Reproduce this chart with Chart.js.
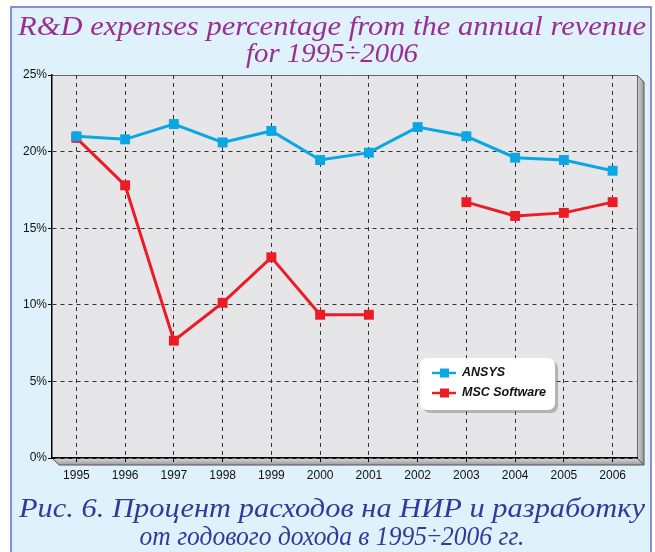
<!DOCTYPE html>
<html>
<head>
<meta charset="utf-8">
<script src="https://cdn.jsdelivr.net/npm/chart.js@4.4.0/dist/chart.umd.min.js"></script>
<style>
  html, body { margin: 0; padding: 0; background: #fff; }
  #rd-chart { display: block; }
</style>
</head>
<body>
<canvas id="rd-chart" width="655" height="552"></canvas>
<script>
// data
const years = ['1995', '1996', '1997', '1998', '1999', '2000', '2001', '2002', '2003', '2004', '2005', '2006'];
const ansysValues = [21.0, 20.8, 21.8, 20.6, 21.35, 19.45, 19.93, 21.6, 21.0, 19.6, 19.45, 18.75];
const mscValues = [20.9, 17.8, 7.66, 10.13, 13.1, 9.35, 9.35, null, 16.7, 15.8, 16.0, 16.7];
const yTicks = [0, 5, 10, 15, 20, 25];
const titleLines = ['R&D expenses percentage from the annual revenue', 'for 1995\u00f72006'];
const captionLines = ['Рис. 6. Процент расходов на НИР и разработку', 'от годового дохода в 1995\u00f72006 гг.'];

const ANSYS_COLOR = '#0aa7e4';
const MSC_COLOR = '#ec1c26';

// serif italic text, each line stretched to the width it has in the picture
function drawTextBlock(ctx, lines, color, baselines, cx, widths) {
    ctx.save();
    ctx.font = 'italic 27px "Liberation Serif", "DejaVu Serif", serif';
    ctx.fillStyle = color;
    ctx.textAlign = 'center';
    ctx.textBaseline = 'alphabetic';
    lines.forEach((line, i) => {
        const sx = widths[i] / ctx.measureText(line).width;
        ctx.save();
        ctx.translate(cx, baselines[i]);
        ctx.scale(sx, 1);
        ctx.fillText(line, 0, 0);
        ctx.restore();
    });
    ctx.restore();
}

const framePlugin = {
    id: 'frame',
    beforeDraw(chart) {
        const { ctx, chartArea: a } = chart;
        ctx.save();
        ctx.fillStyle = '#ffffff';
        ctx.fillRect(0, 0, chart.width, chart.height);
        // blue panel
        ctx.fillStyle = '#dff1fb';
        ctx.fillRect(11, 7, 640, chart.height);
        ctx.strokeStyle = '#6a6ec2';
        ctx.lineWidth = 1.5;
        ctx.beginPath();
        ctx.moveTo(11, chart.height + 2);
        ctx.lineTo(11, 7);
        ctx.lineTo(651, 7);
        ctx.lineTo(651, chart.height + 2);
        ctx.stroke();

        // 3D floor and right wall
        const d = 7;
        let g = ctx.createLinearGradient(0, a.bottom, 0, a.bottom + d);
        g.addColorStop(0, '#d8d8d8');
        g.addColorStop(1, '#9c9c9c');
        ctx.fillStyle = g;
        ctx.beginPath();
        ctx.moveTo(a.left, a.bottom);
        ctx.lineTo(a.right, a.bottom);
        ctx.lineTo(a.right + d, a.bottom + d);
        ctx.lineTo(a.left + d, a.bottom + d);
        ctx.closePath();
        ctx.fill();
        g = ctx.createLinearGradient(a.right, 0, a.right + d, 0);
        g.addColorStop(0, '#d4d4d4');
        g.addColorStop(1, '#9a9a9a');
        ctx.fillStyle = g;
        ctx.beginPath();
        ctx.moveTo(a.right, a.top);
        ctx.lineTo(a.right + d, a.top + d);
        ctx.lineTo(a.right + d, a.bottom + d);
        ctx.lineTo(a.right, a.bottom);
        ctx.closePath();
        ctx.fill();
        ctx.strokeStyle = '#555';
        ctx.lineWidth = 1;
        ctx.beginPath();
        ctx.moveTo(a.left, a.bottom);
        ctx.lineTo(a.left + d, a.bottom + d);
        ctx.lineTo(a.right + d, a.bottom + d);
        ctx.lineTo(a.right + d, a.top + d);
        ctx.lineTo(a.right, a.top);
        ctx.moveTo(a.right, a.bottom);
        ctx.lineTo(a.right + d, a.bottom + d);
        ctx.stroke();

        // plot area
        ctx.fillStyle = '#e6e6e8';
        ctx.fillRect(a.left, a.top, a.right - a.left, a.bottom - a.top);
        ctx.strokeStyle = '#666';
        ctx.beginPath();
        ctx.moveTo(a.left, a.top + 0.5);
        ctx.lineTo(a.right + 0.5, a.top + 0.5);
        ctx.lineTo(a.right + 0.5, a.bottom);
        ctx.stroke();

        drawTextBlock(ctx, titleLines, '#992f8f', [35, 62], 332, [628, 172]);
        drawTextBlock(ctx, captionLines, '#33399b', [517, 545], 332, [626, 385]);
        ctx.restore();
    },
    afterDraw(chart) {
        // legend box
        const { ctx } = chart;
        const x = 420, y = 358, w = 135, h = 52, r = 7;
        ctx.save();
        ctx.fillStyle = 'rgba(120,120,120,0.45)';
        ctx.beginPath();
        ctx.roundRect(x + 3, y + 3, w, h, r);
        ctx.fill();
        ctx.fillStyle = '#ffffff';
        ctx.beginPath();
        ctx.roundRect(x, y, w, h, r);
        ctx.fill();
        ctx.font = 'italic bold 12.5px "Liberation Sans", Arial, sans-serif';
        ctx.textBaseline = 'middle';
        chart.data.datasets.forEach((ds, i) => {
            const cy = y + 15 + i * 20;
            ctx.strokeStyle = ds.borderColor;
            ctx.lineWidth = 2.5;
            ctx.beginPath();
            ctx.moveTo(432, cy);
            ctx.lineTo(456, cy);
            ctx.stroke();
            ctx.fillStyle = ds.backgroundColor;
            ctx.fillRect(440, cy - 4.5, 9, 9);
            ctx.fillStyle = '#111';
            ctx.fillText(ds.label, 462, cy);
        });
        ctx.restore();
    }
};

new Chart(document.getElementById('rd-chart'), {
    type: 'line',
    data: {
        labels: years,
        datasets: [
            {
                label: 'ANSYS',
                data: ansysValues,
                borderColor: ANSYS_COLOR,
                backgroundColor: ANSYS_COLOR,
                borderWidth: 3,
                pointStyle: 'rect',
                pointRadius: 7,
                pointBorderWidth: 0,
                tension: 0
            },
            {
                label: 'MSC Software',
                data: mscValues,
                borderColor: MSC_COLOR,
                backgroundColor: MSC_COLOR,
                borderWidth: 3,
                pointStyle: 'rect',
                pointRadius: 7,
                pointBorderWidth: 0,
                spanGaps: false,
                tension: 0
            }
        ]
    },
    options: {
        responsive: false,
        animation: false,
        devicePixelRatio: 1,
        layout: { padding: { top: 75, left: 0, right: 18, bottom: 0 } },
        plugins: {
            legend: { display: false },
            title: { display: false },
            tooltip: { enabled: false }
        },
        scales: {
            x: {
                offset: true,
                grid: {
                    color: '#333',
                    lineWidth: 1,
                    tickLength: 4,
                    tickColor: '#000'
                },
                border: { display: true, color: '#000', width: 1.5, dash: [4, 4] },
                ticks: {
                    color: '#111',
                    padding: 6,
                    maxRotation: 0,
                    font: { family: '"Liberation Sans", Arial, sans-serif', size: 12 }
                },
                afterFit(scale) { scale.height = 94; }
            },
            y: {
                min: 0,
                max: 25,
                afterBuildTicks(scale) { scale.ticks = yTicks.map(v => ({ value: v })); },
                grid: {
                    color: ctx => (ctx.tick && ctx.tick.value === 25) ? 'rgba(0,0,0,0)' : '#333',
                    lineWidth: 1,
                    tickLength: 4,
                    tickColor: '#000'
                },
                border: { display: true, color: '#000', width: 1.5, dash: [4, 4] },
                ticks: {
                    color: '#111',
                    padding: 1,
                    callback: v => v + '%',
                    font: { family: '"Liberation Sans", Arial, sans-serif', size: 12 }
                },
                afterFit(scale) { scale.width = 52; }
            }
        }
    },
    plugins: [framePlugin]
});
</script>
</body>
</html>
